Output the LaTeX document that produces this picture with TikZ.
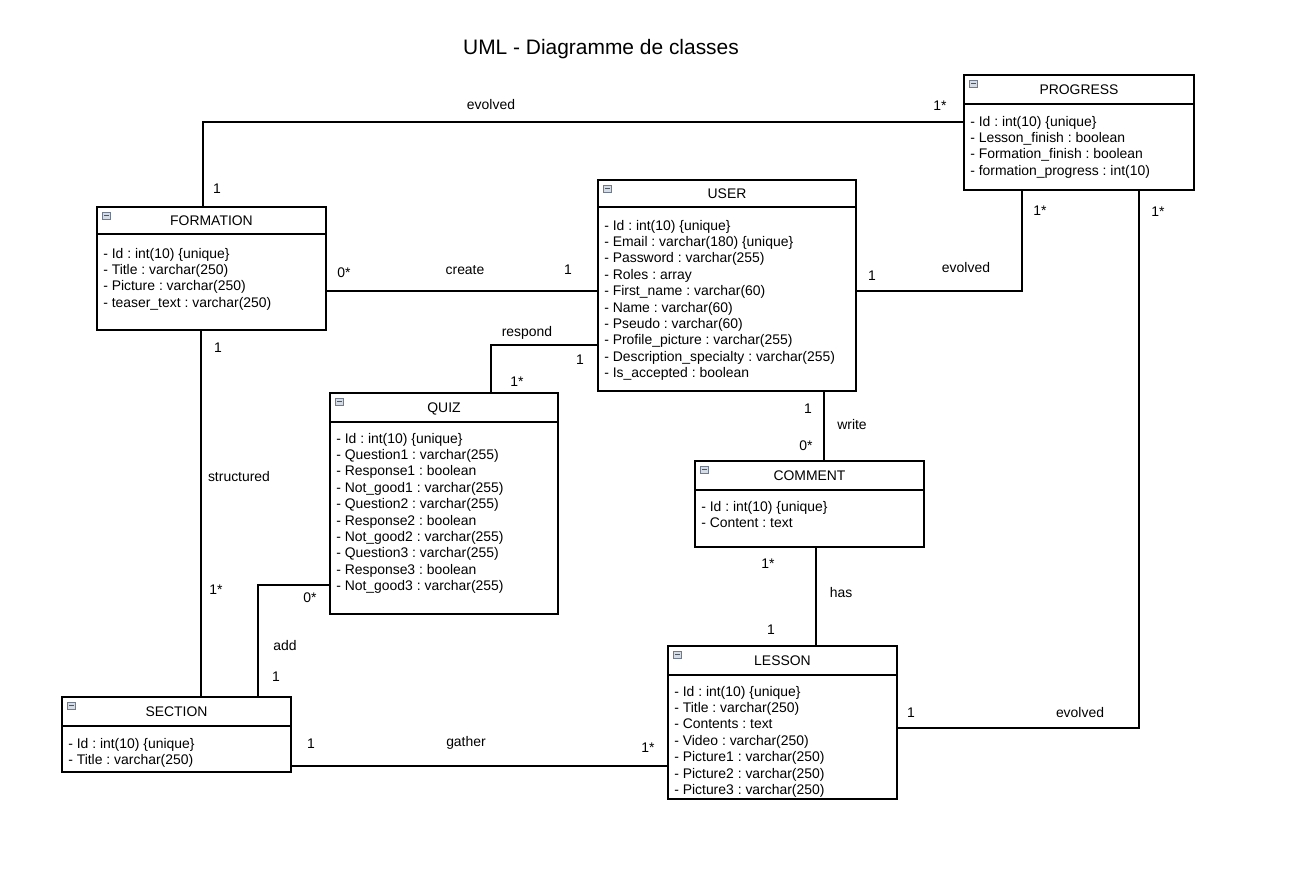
\documentclass[tikz,border=0pt]{standalone}
\usepackage{fontspec}
\setmainfont{Liberation Sans}
\frenchspacing
\usetikzlibrary{fit}
\definecolor{iconfill}{HTML}{D5DCE6}
\definecolor{iconline}{HTML}{6F7B8C}
\tikzset{
  classbox/.style={draw=black, line width=1.5pt, inner sep=0pt},
  boxline/.style={draw=black, line width=1.5pt},
  conn/.style={draw=black, line width=1.6pt},
  titletext/.style={font=\fontsize{10.45pt}{12pt}\selectfont, inner sep=0pt, anchor=base},
  attr/.style={font=\fontsize{10.45pt}{12pt}\selectfont, inner sep=0pt, anchor=base west},
  lbl/.style={font=\fontsize{10.45pt}{12pt}\selectfont, inner sep=0pt, anchor=base},
  iconbox/.style={draw=iconline, fill=iconfill, line width=0.6pt},
  iconbar/.style={draw=iconline!70!black, line width=0.8pt}
}
% name, x1, y1, x2, y2, divider y, title, first attribute y, attributes
\newcommand\umlclass[9]{%
  \node[classbox, fit={(#2,#3)(#4,#5)}] (#1) {};
  \draw[boxline] (#2,#6) -- (#4,#6);
  \node[titletext] (#1-title) at ({(#2+#4)/2},{(#3+#6)/2+5}) {#7};
  \draw[iconbox] (#2+5.5,#3+5) rectangle (#2+13.5,#3+12);
  \draw[iconbar] (#2+7,#3+8.5) -- (#2+12,#3+8.5);
  \foreach \t [count=\i] in {#9} {
    \node[attr] (#1-a\i) at (#2+6,{#8+(\i-1)*16.4+5}) {\t};
  }%
}
\begin{document}
\begin{tikzpicture}[x=0.75pt,y=-0.75pt]
\useasboundingbox (0,0) rectangle (1292,883);
\fill[white] (0,0) rectangle (1292,883);

\node[font=\fontsize{15.7pt}{18pt}\selectfont, inner sep=0pt, anchor=base] (maintitle) at (601,54) {UML - Diagramme de classes};

\umlclass{progress}{964}{75}{1194}{190}{104}{PROGRESS}{121}{{- Id : int(10) \{unique\}},{- Lesson\_finish : boolean},{- Formation\_finish : boolean},{- formation\_progress : int(10)}}

\umlclass{formation}{97}{207}{326}{330}{234}{FORMATION}{253}{{- Id : int(10) \{unique\}},{- Title : varchar(250)},{- Picture : varchar(250)},{- teaser\_text : varchar(250)}}

\umlclass{user}{598}{180}{856}{391}{207}{USER}{225}{{- Id : int(10) \{unique\}},{- Email : varchar(180) \{unique\}},{- Password : varchar(255)},{- Roles : array},{- First\_name : varchar(60)},{- Name : varchar(60)},{- Pseudo : varchar(60)},{- Profile\_picture : varchar(255)},{- Description\_specialty : varchar(255)},{- Is\_accepted : boolean}}

\umlclass{quiz}{330}{393}{558}{614}{422}{QUIZ}{438}{{- Id : int(10) \{unique\}},{- Question1 : varchar(255)},{- Response1 : boolean},{- Not\_good1 : varchar(255)},{- Question2 : varchar(255)},{- Response2 : boolean},{- Not\_good2 : varchar(255)},{- Question3 : varchar(255)},{- Response3 : boolean},{- Not\_good3 : varchar(255)}}

\umlclass{comment}{695}{461}{924}{547}{490}{COMMENT}{506}{{- Id : int(10) \{unique\}},{- Content : text}}

\umlclass{lesson}{668}{646}{897}{799}{675}{LESSON}{691}{{- Id : int(10) \{unique\}},{- Title : varchar(250)},{- Contents : text},{- Video : varchar(250)},{- Picture1 : varchar(250)},{- Picture2 : varchar(250)},{- Picture3 : varchar(250)}}

\umlclass{section}{62}{697}{291}{772}{726}{SECTION}{743}{{- Id : int(10) \{unique\}},{- Title : varchar(250)}}

% bend / alignment coordinates
\coordinate (b1) at (203,122);
\coordinate (b2) at (0,291);
\coordinate (b3) at (1022,291);
\coordinate (b4) at (491,345);
\coordinate (b5) at (201,0);
\coordinate (b6) at (824,0);
\coordinate (b7) at (816,0);
\coordinate (b8) at (258,585);
\coordinate (b9) at (0,766);
\coordinate (b10) at (1139,728);

\draw[conn] (formation.north -| b1) |- (progress.west |- b1);
\draw[conn] (formation.east |- b2) -- (user.west |- b2);
\draw[conn] (user.east |- b3) -| (progress.south -| b3);
\draw[conn] (user.west |- b4) -| (quiz.north -| b4);
\draw[conn] (formation.south -| b5) -- (section.north -| b5);
\draw[conn] (user.south -| b6) -- (comment.north -| b6);
\draw[conn] (comment.south -| b7) -- (lesson.north -| b7);
\draw[conn] (quiz.west |- b8) -| (section.north -| b8);
\draw[conn] (section.east |- b9) -- (lesson.west |- b9);
\draw[conn] (lesson.east |- b10) -| (progress.south -| b10);

% labels
\node[lbl] (l1a) at (491,109) {evolved};
\node[lbl] (l1b) at (940,110) {1*};
\node[lbl] (l1c) at (217,193) {1};

\node[lbl] (l2a) at (344,277) {0*};
\node[lbl] (l2b) at (465,274) {create};
\node[lbl] (l2c) at (568,274) {1};

\node[lbl] (l3a) at (966,272) {evolved};
\node[lbl] (l3b) at (872,280) {1};
\node[lbl] (l3c) at (1040,215) {1*};

\node[lbl] (l4a) at (527,336) {respond};
\node[lbl] (l4b) at (580,364) {1};
\node[lbl] (l4c) at (517,386) {1*};

\node[lbl] (l5a) at (218,352) {1};
\node[lbl] (l5b) at (239,481) {structured};
\node[lbl] (l5c) at (216,594) {1*};

\node[lbl] (l6a) at (808,413) {1};
\node[lbl] (l6b) at (852,429) {write};
\node[lbl] (l6c) at (806,450) {0*};

\node[lbl] (l7a) at (768,568) {1*};
\node[lbl] (l7b) at (841,597) {has};
\node[lbl] (l7c) at (771,634) {1};

\node[lbl] (l8a) at (310,602) {0*};
\node[lbl] (l8b) at (285,650) {add};
\node[lbl] (l8c) at (276,681) {1};

\node[lbl] (l9a) at (311,748) {1};
\node[lbl] (l9b) at (466,746) {gather};
\node[lbl] (l9c) at (648,752) {1*};

\node[lbl] (l10a) at (911,717) {1};
\node[lbl] (l10b) at (1080,717) {evolved};
\node[lbl] (l10c) at (1158,216) {1*};
\end{tikzpicture}
\end{document}
